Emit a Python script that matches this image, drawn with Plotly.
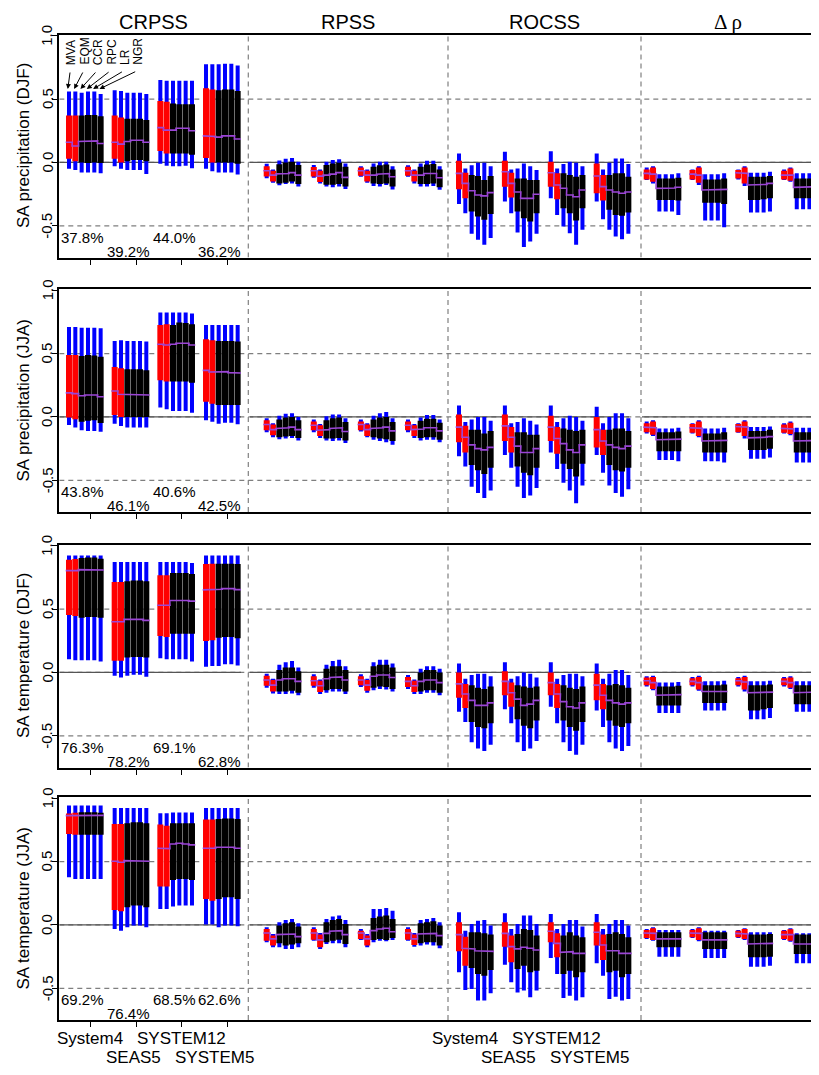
import plotly.graph_objects as go

# ---------------- data ----------------
systems = ["System4", "SEAS5", "SYSTEM12", "SYSTEM5"]
methods = ["MVA", "EQM", "CCR", "RPC", "LR", "NGR"]
scores = ["CRPSS", "RPSS", "ROCSS", "Δ ρ"]
row_titles = ["SA precipitation (DJF)", "SA precipitation (JJA)",
              "SA temperature (DJF)", "SA temperature (JJA)"]
pct = [[37.8, 39.2, 44.0, 36.2],
       [43.8, 46.1, 40.6, 42.5],
       [76.3, 78.2, 69.1, 62.8],
       [69.2, 76.4, 68.5, 62.6]]
ytick_vals = [-0.5, 0.0, 0.5, 1.0]
ytick_text = ["-0.5", "0.0", "0.5", "1.0"]

# each bar: (min, q25, median, q75, max); 4 systems x 6 methods
crpss_pr_djf = [
 [(-0.05,0.03,0.16,0.37,0.56),(-0.06,0.01,0.13,0.37,0.56),(-0.08,0.00,0.165,0.37,0.55),(-0.08,-0.005,0.17,0.375,0.56),(-0.08,0.00,0.17,0.375,0.56),(-0.085,-0.005,0.15,0.365,0.54)],
 [(-0.03,0.03,0.16,0.37,0.57),(-0.05,0.00,0.145,0.355,0.565),(-0.06,0.01,0.165,0.345,0.55),(-0.06,0.02,0.175,0.345,0.55),(-0.06,0.02,0.175,0.345,0.55),(-0.09,0.01,0.16,0.335,0.54)],
 [(-0.01,0.09,0.275,0.485,0.65),(-0.025,0.07,0.255,0.48,0.645),(-0.03,0.07,0.255,0.465,0.645),(-0.03,0.07,0.27,0.46,0.645),(-0.025,0.07,0.27,0.46,0.645),(-0.045,0.06,0.25,0.46,0.645)],
 [(-0.05,0.035,0.21,0.585,0.775),(-0.07,0.00,0.205,0.575,0.775),(-0.08,0.00,0.20,0.57,0.775),(-0.08,0.00,0.21,0.575,0.78),(-0.08,0.00,0.21,0.575,0.78),(-0.095,-0.01,0.185,0.565,0.765)],
]
rpss_pr_djf = [
 [(-0.125,-0.11,-0.065,-0.03,-0.01),(-0.16,-0.15,-0.10,-0.065,-0.055),(-0.18,-0.165,-0.09,-0.015,0.015),(-0.17,-0.16,-0.087,0.0,0.03),(-0.165,-0.15,-0.08,0.005,0.035),(-0.19,-0.17,-0.10,-0.02,0.005)],
 [(-0.12,-0.11,-0.065,-0.035,-0.02),(-0.165,-0.155,-0.108,-0.065,-0.055),(-0.19,-0.175,-0.10,-0.02,0.005),(-0.195,-0.175,-0.092,-0.008,0.02),(-0.19,-0.17,-0.08,-0.003,0.025),(-0.21,-0.19,-0.118,-0.034,-0.008)],
 [(-0.113,-0.105,-0.065,-0.04,-0.03),(-0.16,-0.15,-0.10,-0.065,-0.055),(-0.186,-0.165,-0.10,-0.034,-0.008),(-0.19,-0.17,-0.092,-0.021,0.005),(-0.178,-0.165,-0.087,-0.016,0.005),(-0.213,-0.19,-0.113,-0.055,-0.029)],
 [(-0.113,-0.105,-0.065,-0.034,-0.021),(-0.165,-0.15,-0.10,-0.065,-0.055),(-0.19,-0.17,-0.10,-0.034,-0.008),(-0.19,-0.17,-0.087,-0.016,0.013),(-0.186,-0.165,-0.087,-0.013,0.013),(-0.215,-0.195,-0.12,-0.055,-0.029)],
]
rocss_pr_djf = [
 [(-0.327,-0.212,-0.086,0.013,0.071),(-0.40,-0.283,-0.165,-0.081,-0.047),(-0.563,-0.387,-0.223,-0.099,-0.021),(-0.61,-0.427,-0.257,-0.107,-0.003),(-0.649,-0.453,-0.264,-0.139,-0.003),(-0.597,-0.406,-0.238,-0.107,-0.029)],
 [(-0.309,-0.191,-0.073,0.013,0.084),(-0.40,-0.277,-0.165,-0.081,-0.055),(-0.552,-0.387,-0.233,-0.126,-0.047),(-0.668,-0.44,-0.283,-0.126,-0.008),(-0.623,-0.466,-0.283,-0.139,-0.029),(-0.563,-0.40,-0.251,-0.139,-0.06)],
 [(-0.283,-0.191,-0.081,0.005,0.089),(-0.414,-0.291,-0.178,-0.086,-0.047),(-0.505,-0.361,-0.204,-0.086,-0.013),(-0.558,-0.40,-0.257,-0.099,0.005),(-0.649,-0.458,-0.27,-0.113,-0.003),(-0.531,-0.361,-0.217,-0.099,-0.029)],
 [(-0.309,-0.243,-0.107,-0.008,0.071),(-0.448,-0.301,-0.191,-0.099,-0.055),(-0.531,-0.374,-0.217,-0.099,-0.003),(-0.584,-0.414,-0.233,-0.086,0.031),(-0.605,-0.421,-0.243,-0.086,0.031),(-0.563,-0.395,-0.233,-0.113,-0.013)],
]
drho_pr_djf = [
 [(-0.139,-0.134,-0.086,-0.055,-0.039),(-0.165,-0.152,-0.092,-0.039,-0.029),(-0.387,-0.296,-0.204,-0.126,-0.092),(-0.387,-0.296,-0.204,-0.126,-0.092),(-0.387,-0.296,-0.202,-0.126,-0.092),(-0.414,-0.301,-0.196,-0.121,-0.086)],
 [(-0.139,-0.134,-0.092,-0.06,-0.055),(-0.178,-0.16,-0.10,-0.039,-0.029),(-0.458,-0.317,-0.217,-0.134,-0.092),(-0.458,-0.317,-0.217,-0.134,-0.092),(-0.458,-0.317,-0.217,-0.134,-0.092),(-0.511,-0.327,-0.212,-0.126,-0.086)],
 [(-0.134,-0.126,-0.081,-0.06,-0.055),(-0.186,-0.165,-0.086,-0.039,-0.029),(-0.395,-0.296,-0.178,-0.113,-0.081),(-0.395,-0.296,-0.178,-0.113,-0.081),(-0.395,-0.291,-0.173,-0.113,-0.081),(-0.387,-0.283,-0.165,-0.107,-0.073)],
 [(-0.139,-0.134,-0.10,-0.065,-0.055),(-0.152,-0.144,-0.10,-0.047,-0.039),(-0.369,-0.283,-0.196,-0.126,-0.086),(-0.369,-0.283,-0.196,-0.126,-0.086),(-0.369,-0.283,-0.196,-0.126,-0.086),(-0.374,-0.283,-0.191,-0.118,-0.081)],
]

crpss_pr_jja = [
 [(-0.063,-0.005,0.19,0.49,0.71),(-0.084,-0.018,0.184,0.49,0.71),(-0.105,-0.037,0.168,0.482,0.705),(-0.11,-0.03,0.174,0.49,0.705),(-0.11,-0.025,0.174,0.485,0.705),(-0.116,-0.047,0.16,0.476,0.70)],
 [(-0.053,0.016,0.205,0.395,0.60),(-0.071,0.0,0.179,0.384,0.605),(-0.084,0.0,0.179,0.376,0.60),(-0.084,0.0,0.179,0.376,0.60),(-0.084,0.0,0.179,0.376,0.60),(-0.084,0.0,0.174,0.368,0.595)],
 [(0.074,0.289,0.574,0.726,0.824),(0.061,0.279,0.568,0.732,0.824),(0.047,0.279,0.574,0.726,0.824),(0.047,0.279,0.582,0.745,0.824),(0.047,0.279,0.582,0.742,0.824),(0.034,0.271,0.568,0.732,0.816)],
 [(-0.026,0.121,0.368,0.613,0.726),(-0.037,0.105,0.355,0.605,0.726),(-0.053,0.095,0.355,0.60,0.726),(-0.045,0.095,0.358,0.60,0.726),(-0.045,0.095,0.35,0.60,0.726),(-0.058,0.095,0.347,0.595,0.726)],
]
rpss_pr_jja = [
 [(-0.12,-0.105,-0.06,-0.025,-0.01),(-0.16,-0.145,-0.10,-0.06,-0.05),(-0.175,-0.16,-0.09,-0.02,0.01),(-0.17,-0.155,-0.085,-0.005,0.025),(-0.165,-0.15,-0.08,0.0,0.03),(-0.185,-0.165,-0.10,-0.025,0.0)],
 [(-0.12,-0.105,-0.065,-0.035,-0.02),(-0.165,-0.15,-0.105,-0.065,-0.055),(-0.185,-0.17,-0.10,-0.025,0.005),(-0.19,-0.17,-0.09,-0.01,0.02),(-0.185,-0.165,-0.085,-0.005,0.02),(-0.205,-0.185,-0.115,-0.04,-0.01)],
 [(-0.115,-0.105,-0.06,-0.035,-0.02),(-0.16,-0.15,-0.10,-0.06,-0.05),(-0.18,-0.16,-0.09,-0.02,0.01),(-0.19,-0.17,-0.085,-0.005,0.03),(-0.20,-0.175,-0.08,0.0,0.04),(-0.22,-0.19,-0.11,-0.04,-0.01)],
 [(-0.12,-0.105,-0.065,-0.035,-0.02),(-0.165,-0.15,-0.10,-0.065,-0.055),(-0.185,-0.165,-0.095,-0.03,-0.005),(-0.18,-0.16,-0.085,-0.015,0.015),(-0.18,-0.16,-0.085,-0.015,0.015),(-0.20,-0.18,-0.11,-0.045,-0.02)],
]
rocss_pr_jja = [
 [(-0.31,-0.20,-0.08,0.02,0.09),(-0.39,-0.28,-0.16,-0.07,-0.04),(-0.55,-0.38,-0.22,-0.10,-0.02),(-0.60,-0.42,-0.25,-0.10,0.0),(-0.64,-0.45,-0.26,-0.13,0.0),(-0.58,-0.40,-0.24,-0.11,-0.03)],
 [(-0.30,-0.19,-0.07,0.02,0.09),(-0.40,-0.28,-0.16,-0.08,-0.05),(-0.55,-0.39,-0.23,-0.12,-0.04),(-0.64,-0.44,-0.28,-0.12,-0.01),(-0.62,-0.46,-0.28,-0.14,-0.03),(-0.56,-0.40,-0.25,-0.14,-0.06)],
 [(-0.28,-0.19,-0.08,0.01,0.09),(-0.41,-0.29,-0.17,-0.08,-0.04),(-0.52,-0.37,-0.21,-0.09,-0.01),(-0.58,-0.41,-0.26,-0.10,0.01),(-0.68,-0.47,-0.28,-0.11,0.0),(-0.54,-0.37,-0.22,-0.10,-0.03)],
 [(-0.30,-0.24,-0.10,0.0,0.08),(-0.44,-0.30,-0.19,-0.10,-0.05),(-0.54,-0.38,-0.22,-0.10,0.0),(-0.60,-0.42,-0.24,-0.09,0.03),(-0.63,-0.43,-0.25,-0.09,0.03),(-0.57,-0.40,-0.23,-0.11,-0.01)],
]
drho_pr_jja = [
 [(-0.13,-0.12,-0.08,-0.05,-0.035),(-0.15,-0.14,-0.085,-0.035,-0.025),(-0.34,-0.27,-0.18,-0.12,-0.09),(-0.34,-0.27,-0.18,-0.12,-0.09),(-0.34,-0.27,-0.18,-0.12,-0.09),(-0.35,-0.27,-0.175,-0.115,-0.085)],
 [(-0.13,-0.125,-0.085,-0.055,-0.05),(-0.16,-0.15,-0.09,-0.035,-0.025),(-0.35,-0.28,-0.19,-0.13,-0.09),(-0.35,-0.28,-0.19,-0.13,-0.09),(-0.35,-0.28,-0.19,-0.13,-0.09),(-0.36,-0.28,-0.185,-0.12,-0.085)],
 [(-0.125,-0.12,-0.075,-0.055,-0.05),(-0.17,-0.15,-0.08,-0.035,-0.025),(-0.33,-0.26,-0.165,-0.11,-0.08),(-0.33,-0.26,-0.165,-0.11,-0.08),(-0.33,-0.26,-0.16,-0.11,-0.08),(-0.32,-0.25,-0.155,-0.10,-0.075)],
 [(-0.13,-0.125,-0.09,-0.06,-0.05),(-0.145,-0.135,-0.095,-0.045,-0.035),(-0.36,-0.28,-0.19,-0.12,-0.085),(-0.36,-0.28,-0.19,-0.12,-0.085),(-0.36,-0.28,-0.19,-0.12,-0.085),(-0.37,-0.28,-0.185,-0.115,-0.08)],
]

crpss_tas_djf = [
 [(0.105,0.453,0.804,0.89,0.924),(0.097,0.445,0.804,0.895,0.924),(0.097,0.432,0.812,0.903,0.924),(0.097,0.437,0.812,0.908,0.924),(0.097,0.437,0.812,0.908,0.924),(0.086,0.432,0.809,0.898,0.924)],
 [(-0.026,0.092,0.40,0.715,0.872),(-0.039,0.092,0.40,0.715,0.872),(-0.026,0.118,0.419,0.72,0.872),(-0.018,0.123,0.419,0.725,0.872),(-0.018,0.123,0.419,0.725,0.872),(-0.034,0.118,0.411,0.72,0.872)],
 [(0.113,0.288,0.531,0.767,0.872),(0.105,0.28,0.531,0.767,0.872),(0.105,0.306,0.568,0.785,0.872),(0.105,0.306,0.573,0.785,0.872),(0.105,0.306,0.568,0.785,0.872),(0.086,0.306,0.563,0.777,0.864)],
 [(0.045,0.249,0.652,0.856,0.924),(0.052,0.254,0.652,0.859,0.924),(0.052,0.275,0.657,0.859,0.924),(0.065,0.28,0.662,0.859,0.924),(0.065,0.28,0.662,0.859,0.924),(0.055,0.27,0.654,0.856,0.924)],
]
rpss_tas_djf = [
 [(-0.12,-0.105,-0.06,-0.025,-0.01),(-0.165,-0.15,-0.10,-0.06,-0.05),(-0.17,-0.15,-0.06,0.02,0.06),(-0.17,-0.15,-0.05,0.04,0.08),(-0.165,-0.145,-0.05,0.04,0.09),(-0.18,-0.16,-0.07,0.01,0.04)],
 [(-0.12,-0.105,-0.065,-0.03,-0.015),(-0.17,-0.155,-0.105,-0.065,-0.055),(-0.16,-0.14,-0.05,0.03,0.06),(-0.15,-0.13,-0.04,0.05,0.09),(-0.15,-0.13,-0.035,0.05,0.10),(-0.17,-0.15,-0.06,0.02,0.05)],
 [(-0.115,-0.10,-0.06,-0.03,-0.015),(-0.16,-0.145,-0.10,-0.06,-0.05),(-0.14,-0.12,-0.03,0.05,0.08),(-0.13,-0.11,-0.02,0.06,0.10),(-0.135,-0.115,-0.02,0.06,0.10),(-0.15,-0.13,-0.04,0.04,0.07)],
 [(-0.13,-0.115,-0.07,-0.035,-0.02),(-0.17,-0.155,-0.105,-0.065,-0.055),(-0.17,-0.15,-0.07,0.0,0.03),(-0.16,-0.14,-0.06,0.02,0.05),(-0.16,-0.14,-0.06,0.02,0.05),(-0.18,-0.16,-0.08,0.0,0.03)],
]
rocss_tas_djf = [
 [(-0.31,-0.20,-0.09,0.0,0.07),(-0.39,-0.28,-0.17,-0.09,-0.05),(-0.55,-0.39,-0.22,-0.10,-0.02),(-0.60,-0.43,-0.26,-0.12,-0.01),(-0.62,-0.44,-0.26,-0.13,-0.01),(-0.57,-0.40,-0.24,-0.11,-0.03)],
 [(-0.29,-0.18,-0.07,0.01,0.08),(-0.40,-0.27,-0.16,-0.08,-0.05),(-0.55,-0.37,-0.21,-0.10,-0.03),(-0.62,-0.42,-0.26,-0.11,0.0),(-0.60,-0.44,-0.25,-0.12,-0.01),(-0.54,-0.38,-0.22,-0.11,-0.04)],
 [(-0.27,-0.18,-0.08,0.0,0.08),(-0.40,-0.28,-0.17,-0.09,-0.05),(-0.55,-0.38,-0.23,-0.10,-0.02),(-0.62,-0.43,-0.27,-0.12,-0.01),(-0.65,-0.46,-0.28,-0.13,-0.01),(-0.57,-0.39,-0.24,-0.11,-0.03)],
 [(-0.30,-0.22,-0.10,-0.01,0.07),(-0.43,-0.29,-0.18,-0.09,-0.05),(-0.55,-0.38,-0.22,-0.10,-0.01),(-0.60,-0.42,-0.24,-0.09,0.02),(-0.62,-0.43,-0.25,-0.10,0.02),(-0.58,-0.40,-0.24,-0.12,-0.02)],
]
drho_tas_djf = [
 [(-0.11,-0.10,-0.065,-0.04,-0.03),(-0.14,-0.13,-0.08,-0.035,-0.025),(-0.32,-0.26,-0.18,-0.11,-0.08),(-0.32,-0.26,-0.18,-0.11,-0.08),(-0.32,-0.26,-0.18,-0.11,-0.08),(-0.32,-0.26,-0.175,-0.105,-0.075)],
 [(-0.11,-0.10,-0.07,-0.045,-0.035),(-0.145,-0.135,-0.08,-0.035,-0.025),(-0.30,-0.24,-0.15,-0.10,-0.07),(-0.30,-0.24,-0.15,-0.10,-0.07),(-0.30,-0.24,-0.15,-0.10,-0.07),(-0.30,-0.24,-0.15,-0.095,-0.065)],
 [(-0.11,-0.10,-0.065,-0.045,-0.035),(-0.15,-0.135,-0.075,-0.035,-0.025),(-0.37,-0.30,-0.16,-0.10,-0.07),(-0.37,-0.30,-0.16,-0.10,-0.07),(-0.37,-0.29,-0.16,-0.10,-0.07),(-0.36,-0.28,-0.155,-0.095,-0.065)],
 [(-0.11,-0.10,-0.07,-0.045,-0.035),(-0.13,-0.12,-0.08,-0.04,-0.03),(-0.31,-0.25,-0.16,-0.10,-0.07),(-0.31,-0.25,-0.16,-0.10,-0.07),(-0.31,-0.25,-0.16,-0.10,-0.07),(-0.31,-0.25,-0.155,-0.095,-0.065)],
]

crpss_tas_jja = [
 [(0.376,0.718,0.863,0.88,0.942),(0.363,0.713,0.863,0.885,0.942),(0.363,0.713,0.865,0.89,0.942),(0.363,0.713,0.865,0.89,0.942),(0.363,0.713,0.865,0.89,0.942),(0.363,0.713,0.865,0.885,0.942)],
 [(-0.032,0.118,0.503,0.797,0.924),(-0.045,0.108,0.495,0.797,0.924),(-0.018,0.139,0.508,0.803,0.924),(-0.005,0.153,0.508,0.81,0.924),(-0.005,0.153,0.508,0.81,0.924),(-0.018,0.139,0.503,0.803,0.924)],
 [(0.126,0.303,0.605,0.792,0.882),(0.126,0.303,0.603,0.784,0.882),(0.145,0.355,0.639,0.803,0.887),(0.153,0.363,0.645,0.803,0.887),(0.153,0.363,0.639,0.803,0.887),(0.153,0.355,0.632,0.803,0.887)],
 [(0.003,0.205,0.605,0.832,0.924),(0.003,0.192,0.605,0.832,0.924),(-0.018,0.205,0.613,0.837,0.924),(-0.005,0.218,0.613,0.84,0.924),(-0.005,0.218,0.613,0.84,0.924),(-0.01,0.205,0.605,0.837,0.924)],
]
rpss_tas_jja = [
 [(-0.137,-0.124,-0.063,-0.032,-0.018),(-0.176,-0.163,-0.11,-0.084,-0.071),(-0.176,-0.145,-0.076,-0.005,0.021),(-0.189,-0.163,-0.076,0.013,0.039),(-0.189,-0.155,-0.071,0.021,0.047),(-0.176,-0.145,-0.092,-0.013,0.013)],
 [(-0.124,-0.116,-0.063,-0.032,-0.018),(-0.189,-0.176,-0.118,-0.076,-0.063),(-0.15,-0.137,-0.066,0.021,0.047),(-0.145,-0.124,-0.05,0.039,0.066),(-0.145,-0.116,-0.045,0.047,0.074),(-0.176,-0.15,-0.076,0.008,0.039)],
 [(-0.118,-0.11,-0.063,-0.045,-0.032),(-0.176,-0.163,-0.11,-0.084,-0.071),(-0.137,-0.118,-0.045,0.055,0.126),(-0.124,-0.11,-0.032,0.066,0.126),(-0.129,-0.118,-0.026,0.074,0.134),(-0.118,-0.103,-0.053,0.047,0.113)],
 [(-0.124,-0.116,-0.063,-0.032,-0.018),(-0.171,-0.158,-0.11,-0.076,-0.063),(-0.163,-0.145,-0.071,0.013,0.039),(-0.155,-0.137,-0.071,0.021,0.047),(-0.163,-0.137,-0.066,0.029,0.055),(-0.184,-0.163,-0.084,-0.005,0.021)],
]
rocss_tas_jja = [
 [(-0.374,-0.208,-0.076,0.021,0.1),(-0.513,-0.321,-0.184,-0.092,-0.045),(-0.505,-0.34,-0.189,-0.058,0.008),(-0.597,-0.387,-0.203,-0.058,0.034),(-0.597,-0.40,-0.208,-0.066,0.039),(-0.539,-0.355,-0.208,-0.076,-0.005)],
 [(-0.313,-0.171,-0.066,0.021,0.092),(-0.453,-0.295,-0.171,-0.084,-0.032),(-0.532,-0.347,-0.189,-0.071,0.008),(-0.518,-0.321,-0.176,-0.032,0.074),(-0.571,-0.374,-0.184,-0.039,0.074),(-0.518,-0.361,-0.197,-0.084,0.008)],
 [(-0.26,-0.137,-0.05,0.021,0.087),(-0.387,-0.255,-0.145,-0.066,-0.032),(-0.576,-0.387,-0.216,-0.084,0.008),(-0.558,-0.361,-0.211,-0.058,0.039),(-0.597,-0.413,-0.224,-0.084,0.039),(-0.571,-0.374,-0.224,-0.097,-0.013)],
 [(-0.303,-0.163,-0.058,0.021,0.087),(-0.40,-0.276,-0.158,-0.076,-0.032),(-0.584,-0.374,-0.203,-0.071,0.008),(-0.566,-0.361,-0.203,-0.058,0.039),(-0.597,-0.413,-0.224,-0.071,0.039),(-0.584,-0.387,-0.224,-0.097,-0.005)],
]
drho_tas_jja = [
 [(-0.11,-0.103,-0.063,-0.039,-0.032),(-0.124,-0.118,-0.066,-0.026,-0.018),(-0.25,-0.176,-0.11,-0.058,-0.039),(-0.25,-0.176,-0.11,-0.058,-0.039),(-0.25,-0.176,-0.11,-0.058,-0.039),(-0.25,-0.176,-0.11,-0.058,-0.039)],
 [(-0.103,-0.097,-0.063,-0.039,-0.032),(-0.129,-0.118,-0.066,-0.026,-0.018),(-0.261,-0.189,-0.118,-0.058,-0.045),(-0.261,-0.189,-0.118,-0.058,-0.045),(-0.261,-0.189,-0.118,-0.058,-0.045),(-0.261,-0.189,-0.118,-0.058,-0.045)],
 [(-0.103,-0.097,-0.066,-0.045,-0.039),(-0.118,-0.11,-0.071,-0.032,-0.026),(-0.329,-0.255,-0.15,-0.076,-0.058),(-0.329,-0.255,-0.15,-0.076,-0.058),(-0.329,-0.255,-0.15,-0.076,-0.058),(-0.321,-0.25,-0.145,-0.071,-0.058)],
 [(-0.118,-0.11,-0.076,-0.045,-0.039),(-0.132,-0.124,-0.076,-0.034,-0.026),(-0.303,-0.229,-0.15,-0.076,-0.066),(-0.303,-0.229,-0.15,-0.076,-0.066),(-0.303,-0.229,-0.15,-0.076,-0.066),(-0.303,-0.229,-0.15,-0.076,-0.066)],
]

panels = [
    [crpss_pr_djf, rpss_pr_djf, rocss_pr_djf, drho_pr_djf],
    [crpss_pr_jja, rpss_pr_jja, rocss_pr_jja, drho_pr_jja],
    [crpss_tas_djf, rpss_tas_djf, rocss_tas_djf, drho_tas_djf],
    [crpss_tas_jja, rpss_tas_jja, rocss_tas_jja, drho_tas_jja],
]

# ---------------- layout constants (reference pixel positions) ----------------
PAGE_W, PAGE_H = 819, 1075
OFF = 8                          # page body margin
W, H = PAGE_W - OFF, PAGE_H - OFF
PL = 59.3                        # left edge of plotting box (page px)
sec_first = [69.0, 266.7, 459.0, 646.7]
grp_step = [45.67, 47.1, 45.9, 45.8]
bar_step = 6.33
dividers = [248.3, 448.0, 641.0]
zero_seg = [(PL, 241.0), (250.0, 441.0), (457.0, 629.0), (642.0, PAGE_W)]
sec_center = [153.8, 348.0, 544.5, 728.0]
panel_top = [34.5, 289.0, 544.5, 797.0]
panel_h = 223.0
YR = [-0.75, 1.01]
pct_row_y = [-0.59, -0.70]
pct_row = [[0, 1, 0, 1], [0, 1, 0, 1], [0, 1, 0, 1], [0, 1, 0, 0]]
tick_off = 21.5
sys_label_x = [90.0, 133.3, 181.0, 214.0]
sys_label_shift = [0.0, 375.0]
sys_label_row_px = [1038.0, 1057.0]

BLUE, RED, BLACK, PURPLE = "#0000ff", "#ff0000", "#000000", "#9b45d6"
FONT = "Liberation Sans"

def px_x(px):      # page px -> paper x
    return (px - OFF) / W

def py(px):        # page px -> paper y
    return 1 - (px - OFF) / H

def val_at(p, px):
    return YR[1] - (px - panel_top[p]) / panel_h * (YR[1] - YR[0])

def ax_names(p):
    return ("x" if p == 0 else f"x{p+1}", "y" if p == 0 else f"y{p+1}")

fig = go.Figure()
layout = dict(width=W, height=H, margin=dict(l=0, r=0, t=0, b=0, pad=0),
              paper_bgcolor="white", plot_bgcolor="white", showlegend=False)
shapes, annotations = [], []

crps_ticks = [sec_first[0] + g * grp_step[0] + tick_off for g in range(4)]

for p in range(4):
    xa, ya = ax_names(p)
    xk = "xaxis" if p == 0 else f"xaxis{p+1}"
    yk = "yaxis" if p == 0 else f"yaxis{p+1}"
    layout[xk] = dict(domain=[px_x(PL), 1], range=[PL, PAGE_W], anchor=ya,
                      showline=True, mirror=True, linecolor="black", linewidth=2,
                      ticks="outside", tickvals=crps_ticks, ticklen=5, tickwidth=1,
                      tickcolor="black", showticklabels=False, showgrid=False,
                      zeroline=False, fixedrange=True)
    layout[yk] = dict(domain=[py(panel_top[p] + panel_h), py(panel_top[p])],
                      range=YR, anchor=xa, showline=True, linecolor="black",
                      linewidth=2, ticks="outside", tickvals=ytick_vals, ticklen=5,
                      tickwidth=1, tickcolor="black", showticklabels=False,
                      showgrid=False, zeroline=False, fixedrange=True)

    for v in (-0.5, 0.0, 0.5):
        shapes.append(dict(type="line", xref=xa, yref=ya, x0=PL, x1=PAGE_W, y0=v, y1=v,
                           line=dict(color="#7f7f7f", width=1.2, dash="5px,4px"),
                           layer="below"))
    for a, b in zero_seg:
        shapes.append(dict(type="line", xref=xa, yref=ya, x0=a, x1=b, y0=0, y1=0,
                           line=dict(color="#555555", width=1.3), layer="below"))
    for d in dividers:
        shapes.append(dict(type="line", xref=xa, yref=ya, x0=d, x1=d,
                           y0=YR[0], y1=YR[1],
                           line=dict(color="#7f7f7f", width=1.2, dash="5px,4px"),
                           layer="below"))

    for s in range(4):
        arr = panels[p][s]
        wx, wy, rx, ry, bx, by, mx, my = [], [], [], [], [], [], [], []
        for g in range(4):
            for m in range(6):
                lo, q1, med, q3, hi = arr[g][m]
                x = sec_first[s] + g * grp_step[s] + m * bar_step
                wx += [x, x, None]; wy += [lo, hi, None]
                if m < 2:
                    rx += [x, x, None]; ry += [q1, q3, None]
                else:
                    bx += [x, x, None]; by += [q1, q3, None]
                mx += [x - 3.3, x + 3.3]; my += [med, med]
            mx.append(None); my.append(None)
        for xs, ys, col, w in ((wx, wy, BLUE, 4), (rx, ry, RED, 6), (bx, by, BLACK, 6)):
            fig.add_trace(go.Scatter(x=xs, y=ys, mode="lines", xaxis=xa, yaxis=ya,
                                     line=dict(color=col, width=w), hoverinfo="skip"))
        fig.add_trace(go.Scatter(x=mx, y=my, mode="lines", xaxis=xa, yaxis=ya,
                                 line=dict(color=PURPLE, width=1.6), hoverinfo="skip"))

    for g in range(4):
        cx = sec_first[0] + g * grp_step[0] + 2.5 * bar_step - 2
        annotations.append(dict(xref=xa, yref=ya, x=cx, y=pct_row_y[pct_row[p][g]],
                                text=f"{pct[p][g]:.1f}%", showarrow=False,
                                xanchor="center", yanchor="middle",
                                font=dict(family=FONT, size=15, color="black")))

    for v, t in zip(ytick_vals, ytick_text):
        annotations.append(dict(xref="paper", yref=ya, x=px_x(47), y=v, text=t,
                                textangle=-90, showarrow=False,
                                xanchor="center", yanchor="middle",
                                font=dict(family=FONT, size=15, color="black")))
    annotations.append(dict(xref="paper", yref="paper", x=px_x(23),
                            y=py(panel_top[p] + panel_h / 2), text=row_titles[p],
                            textangle=-90, showarrow=False,
                            xanchor="center", yanchor="middle",
                            font=dict(family=FONT, size=17, color="black")))

for s in range(4):
    fam = "Liberation Serif" if s == 3 else FONT
    annotations.append(dict(xref="x", yref="paper", x=sec_center[s], y=py(22),
                            text=scores[s], showarrow=False,
                            xanchor="center", yanchor="middle",
                            font=dict(family=fam, size=20 if s < 3 else 21, color="black")))

lab_x0, lab_step = 71.7, 13.3
for m, name in enumerate(methods):
    lx = lab_x0 + m * lab_step
    annotations.append(dict(xref="x", yref="paper", x=lx, y=py(67), text=name,
                            textangle=-90, showarrow=False, xanchor="center",
                            yanchor="bottom",
                            font=dict(family=FONT, size=12, color="black")))
    bxm = sec_first[0] + m * bar_step
    annotations.append(dict(xref="x", yref="y", x=bxm - 1.2, y=val_at(0, 89),
                            axref="x", ayref="y", ax=lx - 1.5, ay=val_at(0, 71),
                            text="", showarrow=True, arrowhead=2, arrowsize=1,
                            arrowwidth=1, arrowcolor="black", standoff=0))

for shift in sys_label_shift:
    for g in range(4):
        annotations.append(dict(xref="x4", yref="paper", x=sys_label_x[g] + shift,
                                y=py(sys_label_row_px[g % 2]), text=systems[g],
                                showarrow=False, xanchor="center", yanchor="middle",
                                font=dict(family=FONT, size=17, color="black")))

layout["shapes"] = shapes
layout["annotations"] = annotations
fig.update_layout(**layout)
fig.write_html("out.html")
